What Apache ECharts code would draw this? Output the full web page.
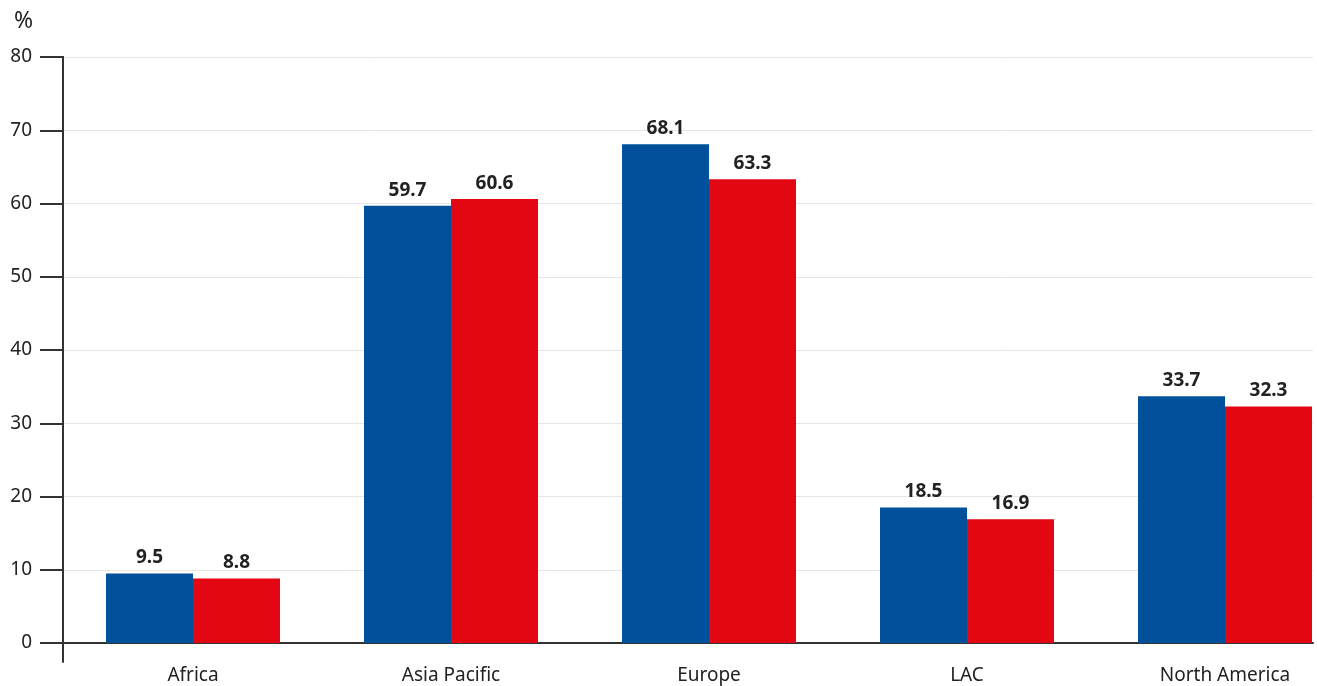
<!DOCTYPE html>
<html>
<head>
<meta charset="utf-8">
<script src="https://cdn.jsdelivr.net/npm/echarts@6/dist/echarts.min.js"></script>
<style>
  html, body { margin: 0; padding: 0; background: #fff; }
  #chart { width: 1317px; height: 686px; }
</style>
</head>
<body>
<div id="chart"></div>
<script>
// data
const categories = ['Africa', 'Asia Pacific', 'Europe', 'LAC', 'North America'];
const seriesA = [9.5, 59.7, 68.1, 18.5, 33.7];
const seriesB = [8.8, 60.6, 63.3, 16.9, 32.3];
const yTicks = [0, 10, 20, 30, 40, 50, 60, 70, 80];

const font = '"Noto Sans", "Open Sans", sans-serif';
const textCol = '#222';

const chart = echarts.init(document.getElementById('chart'));

const option = {
  animation: false,
  title: {
    text: '%', left: 9, top: 5,
    textStyle: { fontFamily: font, fontSize: 23, fontWeight: 'normal', color: textCol }
  },
  grid: [
    // bars (category band runs past the right edge, as in the original)
    { left: 64, width: 1290, top: 57, bottom: 43, containLabel: false, outerBoundsMode: 'none' },
    // gridlines + x axis line
    { left: 63, right: 4, top: 57, bottom: 43, outerBoundsMode: 'none' },
    // y axis line extended below zero
    { left: 63, right: 4, top: 57, bottom: 24, outerBoundsMode: 'none' }
  ],
  xAxis: [
    {
      type: 'category', gridIndex: 0, data: categories,
      axisLine: { show: false }, axisTick: { show: false },
      axisLabel: { fontFamily: font, fontSize: 19, color: textCol, margin: 23 }
    },
    {
      type: 'value', gridIndex: 1, min: 0, max: 1,
      axisLine: { show: true, onZero: false, lineStyle: { color: '#333', width: 2 } },
      axisTick: { show: false }, axisLabel: { show: false }, splitLine: { show: false }
    },
    {
      type: 'value', gridIndex: 2, min: 0, max: 1, show: false
    }
  ],
  yAxis: [
    {
      type: 'value', gridIndex: 0, min: 0, max: 80, interval: 10,
      axisLine: { show: false },
      axisTick: { show: true, length: 24, lineStyle: { color: '#333', width: 2 } },
      axisLabel: { fontFamily: font, fontSize: 19, color: textCol, margin: 32,
        formatter: v => yTicks.includes(v) ? String(v) : '' },
      splitLine: { show: false }
    },
    {
      type: 'value', gridIndex: 1, min: 0, max: 80, interval: 10,
      axisLine: { show: false }, axisTick: { show: false }, axisLabel: { show: false },
      splitLine: { show: true, lineStyle: { color: '#e6e6e6', width: 1 } }
    },
    {
      type: 'value', gridIndex: 2, min: 0, max: 1,
      axisLine: { show: true, lineStyle: { color: '#333', width: 2 } },
      axisTick: { show: false }, axisLabel: { show: false }, splitLine: { show: false }
    }
  ],
  series: [
    {
      name: 'Series 1', type: 'bar', xAxisIndex: 0, yAxisIndex: 0,
      data: seriesA, barWidth: 87, barGap: '0%',
      itemStyle: { color: '#00509b' },
      label: { show: true, position: 'top', distance: 6, fontFamily: font,
        fontSize: 19, fontWeight: 'bold', color: textCol, formatter: p => p.value.toFixed(1) }
    },
    {
      name: 'Series 2', type: 'bar', xAxisIndex: 0, yAxisIndex: 0,
      data: seriesB, barWidth: 87, barGap: '0%',
      itemStyle: { color: '#e30613' },
      label: { show: true, position: 'top', distance: 6, fontFamily: font,
        fontSize: 19, fontWeight: 'bold', color: textCol, formatter: p => p.value.toFixed(1) }
    }
  ]
};

chart.setOption(option);
</script>
</body>
</html>
